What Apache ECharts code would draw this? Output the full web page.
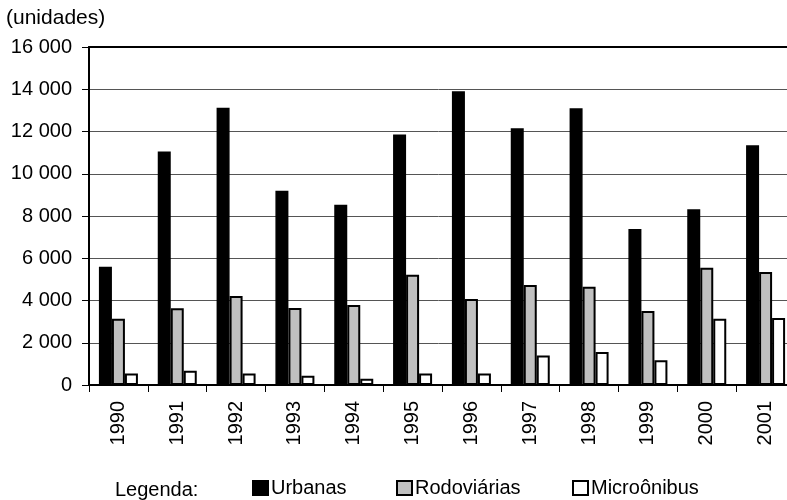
<!DOCTYPE html>
<html>
<head>
<meta charset="utf-8">
<script src="https://cdn.jsdelivr.net/npm/echarts@6/dist/echarts.min.js"></script>
<style>
  html, body { margin: 0; padding: 0; background: #fff; }
  #main { width: 787px; height: 500px; }
</style>
</head>
<body>
<div id="main"></div>
<script>
// dados do gráfico
var anos = ['1990', '1991', '1992', '1993', '1994', '1995', '1996', '1997', '1998', '1999', '2000', '2001'];
var urbanas = [5600, 11050, 13120, 9200, 8530, 11860, 13900, 12150, 13100, 7380, 8320, 11350];
var rodoviarias = [3140, 3630, 4210, 3650, 3790, 5220, 4070, 4730, 4650, 3500, 5550, 5350];
var microonibus = [540, 680, 540, 440, 300, 550, 550, 1400, 1560, 1170, 3140, 3170];
var yTicks = [0, 2000, 4000, 6000, 8000, 10000, 12000, 14000, 16000];

var fonte = 'Liberation Sans, Arial, sans-serif';

var chartDom = document.getElementById('main');
var myChart = echarts.init(chartDom);

function legenda(nome, left) {
  return {
    data: [nome],
    left: left,
    top: 473,
    icon: 'rect',
    itemWidth: 15,
    itemHeight: 14,
    itemGap: 0,
    textStyle: { fontFamily: fonte, fontSize: 20, color: '#000', padding: [0, 0, 0, -2] },
    selectedMode: false
  };
}

var option = {
  animation: false,
  backgroundColor: '#fff',
  grid: {
    left: 89,
    top: 47,
    width: 706,
    height: 338,
    containLabel: false,
    outerBoundsMode: 'none'
  },
  graphic: [
    {
      type: 'text',
      left: 6,
      top: 8,
      style: { text: '(unidades)', font: '21px ' + fonte, fill: '#000' }
    },
    {
      type: 'text',
      left: 115,
      top: 480,
      style: { text: 'Legenda:', font: '20px ' + fonte, fill: '#000' }
    }
  ],
  legend: [
    legenda('Urbanas', 247),
    legenda('Rodoviárias', 391),
    legenda('Microônibus', 567)
  ],
  xAxis: [
    {
      type: 'category',
      data: anos,
      boundaryGap: true,
      axisLine: { show: true, lineStyle: { color: '#000', width: 2 } },
      axisTick: { show: true, length: 7, lineStyle: { color: '#000', width: 1 } },
      axisLabel: {
        interval: 0,
        rotate: 90,
        margin: 16,
        fontFamily: fonte,
        fontSize: 20,
        color: '#000'
      },
      splitLine: { show: false }
    },
    {
      type: 'category',
      data: anos,
      position: 'top',
      axisLine: { show: true, lineStyle: { color: '#000', width: 2 } },
      axisTick: { show: false },
      axisLabel: { show: false },
      splitLine: { show: false }
    }
  ],
  yAxis: {
    type: 'value',
    min: yTicks[0],
    max: yTicks[yTicks.length - 1],
    interval: 2000,
    axisLine: { show: true, lineStyle: { color: '#000', width: 2 } },
    axisTick: { show: true, length: 7, lineStyle: { color: '#000', width: 1 } },
    axisLabel: {
      margin: 17,
      fontFamily: fonte,
      fontSize: 20,
      color: '#000',
      formatter: function (v) {
        if (v === 0) return '0';
        return Math.floor(v / 1000) + ' 000';
      }
    },
    splitLine: { show: true, lineStyle: { color: '#555', width: 1 } }
  },
  series: [
    {
      name: 'Urbanas',
      type: 'bar',
      data: urbanas,
      barWidth: 13,
      barGap: '0%',
      itemStyle: { color: '#000', borderColor: '#000', borderWidth: 1.5 }
    },
    {
      name: 'Rodoviárias',
      type: 'bar',
      data: rodoviarias,
      barWidth: 13,
      barGap: '0%',
      itemStyle: { color: '#c0c0c0', borderColor: '#000', borderWidth: 2 }
    },
    {
      name: 'Microônibus',
      type: 'bar',
      data: microonibus,
      barWidth: 13,
      barGap: '0%',
      itemStyle: { color: '#fff', borderColor: '#000', borderWidth: 2 }
    }
  ]
};

myChart.setOption(option);
</script>
</body>
</html>
